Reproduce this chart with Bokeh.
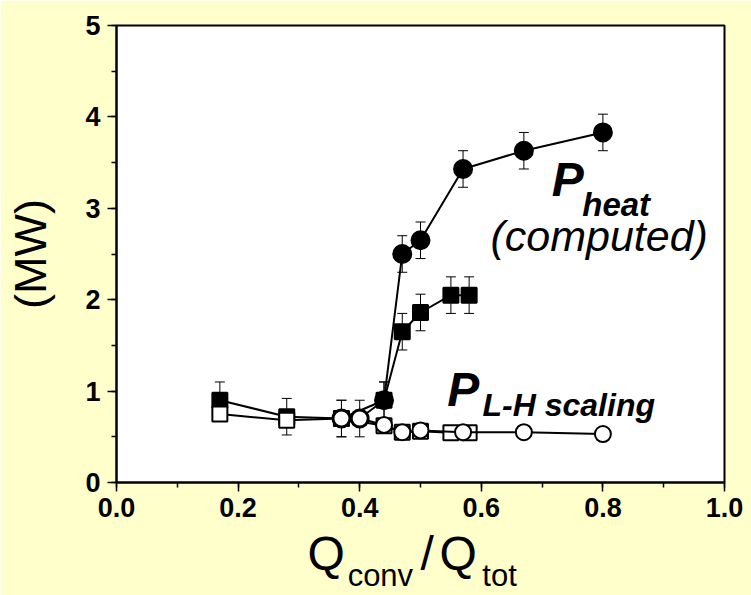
import numpy as np
from bokeh.plotting import figure
from bokeh.models import (ColumnDataSource, Label, SingleIntervalTicker, FixedTicker,
                          NumeralTickFormatter, Range1d, LinearAxis)
from bokeh.embed import file_html
from bokeh.resources import INLINE

# Heating power, computed (filled circles)
heat_x = [0.37, 0.40, 0.44, 0.47, 0.50, 0.57, 0.67, 0.80]
heat_y = [0.70, 0.70, 0.90, 2.50, 2.65, 3.43, 3.63, 3.83]
# Heating power, second set (filled squares)
heat2_x = [0.17, 0.28, 0.37, 0.44, 0.47, 0.50, 0.55, 0.58]
heat2_y = [0.90, 0.72, 0.70, 0.90, 1.65, 1.86, 2.05, 2.05]
# Uncertainty on the heating power
heat_err = 0.2
# L-H threshold scaling (open squares / open circles)
lh_sq_x = [0.17, 0.28, 0.37, 0.44, 0.47, 0.50, 0.55, 0.58]
lh_sq_y = [0.75, 0.68, 0.70, 0.62, 0.55, 0.56, 0.545, 0.545]
lh_ci_x = [0.37, 0.40, 0.44, 0.47, 0.50, 0.57, 0.67, 0.80]
lh_ci_y = [0.70, 0.70, 0.63, 0.55, 0.57, 0.55, 0.55, 0.53]

# x axis title pieces: main letters and their subscripts
title_main = ["Q", "/", "Q"]
title_sub = ["conv", "tot"]

FONT = "Liberation Sans"
BG = "#FFFFCC"

p = figure(width=751, height=595, x_range=Range1d(0, 1), y_range=Range1d(0, 5),
           output_backend="svg", toolbar_location=None,
           min_border_left=116, min_border_right=27,
           min_border_top=25, min_border_bottom=112)
p.border_fill_color = BG
p.background_fill_color = "white"
p.outline_line_color = "black"
p.outline_line_width = 2
p.grid.visible = False

xax = p.xaxis[0]
yax = p.yaxis[0]
xax.ticker = SingleIntervalTicker(interval=0.2, num_minor_ticks=2)
yax.ticker = SingleIntervalTicker(interval=1, num_minor_ticks=2)
xax.formatter = NumeralTickFormatter(format="0.0")
for ax in (xax, yax):
    ax.axis_line_width = 2
    ax.axis_line_color = "black"
    ax.major_tick_line_width = 1.5
    ax.minor_tick_line_width = 1.5
    ax.major_tick_in = 0
    ax.major_tick_out = 9
    ax.minor_tick_in = 0
    ax.minor_tick_out = 5
    ax.major_label_text_font = FONT
    ax.major_label_text_font_style = "bold"
    ax.major_label_text_font_size = "27px"
    ax.major_label_text_color = "black"
xax.major_label_standoff = 6
yax.major_label_standoff = 7

yax.axis_label = "(MW)"
yax.axis_label_text_font = FONT
yax.axis_label_text_font_style = "normal"
yax.axis_label_text_font_size = "45px"
yax.axis_label_text_color = "black"
yax.axis_label_standoff = 26


def title_axis(positions, texts, size, standoff):
    ax = LinearAxis(ticker=FixedTicker(ticks=positions, minor_ticks=[]),
                    major_label_overrides={pos: s for pos, s in zip(positions, texts)},
                    axis_line_color=None, major_tick_line_color=None,
                    minor_tick_line_color=None, major_tick_in=0, major_tick_out=0,
                    major_label_standoff=standoff,
                    major_label_text_font=FONT, major_label_text_font_size=size,
                    major_label_text_color="black")
    p.add_layout(ax, "below")
    return ax


# x axis title "Q_conv / Q_tot", built from two label rows
title_axis([0.345, 0.511, 0.562], title_main, "48px", 7)
title_axis([0.434, 0.630], title_sub, "31px", -25)


def add_series(xs, ys, marker, size, fill, err=None):
    src = ColumnDataSource(dict(x=xs, y=ys))
    p.line("x", "y", source=src, line_color="black", line_width=2)
    if err is not None:
        y = np.asarray(ys)
        eb = ColumnDataSource(dict(x=xs, lo=y - err, hi=y + err))
        p.segment(x0="x", y0="lo", x1="x", y1="hi", source=eb,
                  line_color="black", line_width=1)
        p.scatter("x", "lo", source=eb, marker="dash", size=10,
                  line_color="black", line_width=1)
        p.scatter("x", "hi", source=eb, marker="dash", size=10,
                  line_color="black", line_width=1)
    p.scatter("x", "y", source=src, marker=marker, size=size,
              fill_color=fill, line_color="black", line_width=2)


add_series(heat_x, heat_y, "circle", 18, "black", heat_err)
add_series(heat2_x, heat2_y, "square", 15, "black", heat_err)
add_series(lh_sq_x, lh_sq_y, "square", 15, "white")
add_series(lh_ci_x, lh_ci_y, "circle", 16, "white")


def txt(x, y, s, size, style="normal"):
    p.add_layout(Label(x=x, y=y, text=s, text_font=FONT, text_font_size=size,
                       text_font_style=style, text_color="black",
                       text_baseline="alphabetic", text_align="left"))


# Curve annotations
txt(0.716, 3.31, "P", "48px", "bold italic")
txt(0.766, 3.04, "heat", "33px", "bold italic")
txt(0.615, 2.70, "(computed)", "43px", "italic")
txt(0.544, 1.02, "P", "48px", "bold italic")
txt(0.602, 0.85, "L-H scaling", "32px", "bold italic")

open("out.html", "w").write(file_html(p, INLINE))
